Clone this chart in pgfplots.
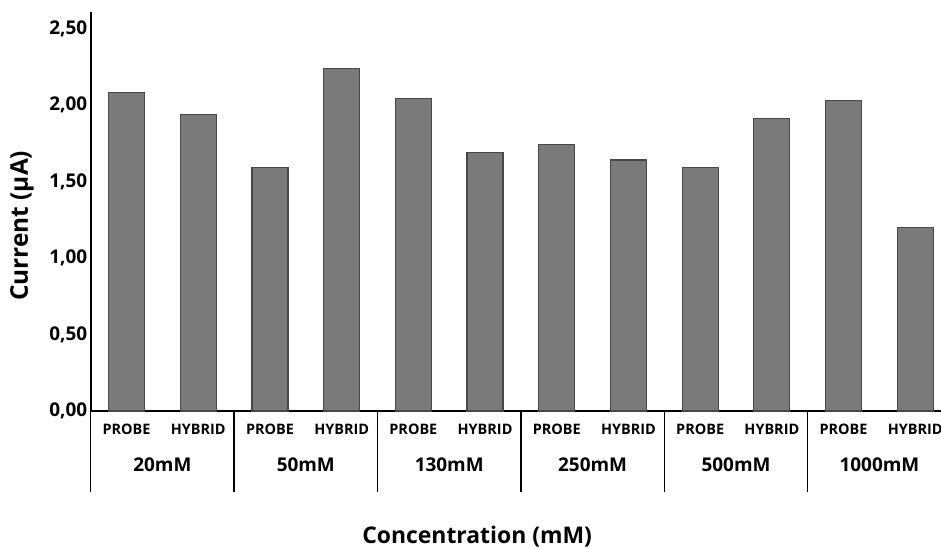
\documentclass[border=0pt]{standalone}
\usepackage{fontspec}
\setmainfont{Open Sans}
\usepackage{pgfplots}
\pgfplotsset{compat=1.18}
\definecolor{barfill}{RGB}{122,122,122}
\definecolor{baredge}{RGB}{72,72,72}
\pgfplotstableread{
x val
0 2.08
1 1.94
2 1.59
3 2.24
4 2.04
5 1.69
6 1.74
7 1.64
8 1.59
9 1.91
10 2.03
11 1.20
}\datatable
\begin{document}
\begin{tikzpicture}[x=1bp,y=1bp]
\begin{axis}[
  at={(90.7bp,138bp)}, anchor=south west,
  x=71.7bp, y=153bp,
  xmin=-0.5, xmax=11.5, ymin=0, ymax=2.61,
  axis lines*=left,
  axis line style={line width=1.6bp, black},
  clip=false,
  ybar, bar width=36bp,
  major tick length=0pt,
  ytick={0,0.5,1,1.5,2,2.5},
  yticklabel style={font=\bfseries\fontsize{19}{19}\selectfont,
    /pgf/number format/.cd, fixed, fixed zerofill, precision=2, use comma, assume math mode=true},
  xtick={0,...,11},
  xticklabels={PROBE,HYBRID,PROBE,HYBRID,PROBE,HYBRID,PROBE,HYBRID,PROBE,HYBRID,PROBE,HYBRID},
  xticklabel style={font=\bfseries\fontsize{14.5}{14.5}\selectfont, anchor=center, yshift=-18bp},
]
\addplot[fill=barfill, draw=baredge, line width=1.2bp] table[x=x, y=val] {\datatable};
\foreach \s in {-0.5,1.5,3.5,5.5,7.5,9.5}{
  \edef\tmp{\noexpand\draw[line width=1.3bp] (axis cs:\s,0) -- ++(0bp,-81bp);}
  \tmp
}
\foreach \p/\t in {0.5/20mM,2.5/50mM,4.5/130mM,6.5/250mM,8.5/500mM,10.5/1000mM}{
  \edef\tmp{\noexpand\node[font=\noexpand\bfseries\noexpand\fontsize{19}{19}\noexpand\selectfont, yshift=-54bp] at (axis cs:\p,0) {\t};}
  \tmp
}
\node[font=\bfseries\fontsize{23}{23}\selectfont, yshift=-126bp] at (axis cs:4.89,0) {Concentration (mM)};
\node[font=\bfseries\fontsize{24.5}{24.5}\selectfont, rotate=90] at (axis cs:-0.5,1.21) [yshift=68.7bp] {Current (μA)};
\end{axis}
\pgfresetboundingbox
\useasboundingbox (0,0) rectangle (941,549);
\end{tikzpicture}
\end{document}
